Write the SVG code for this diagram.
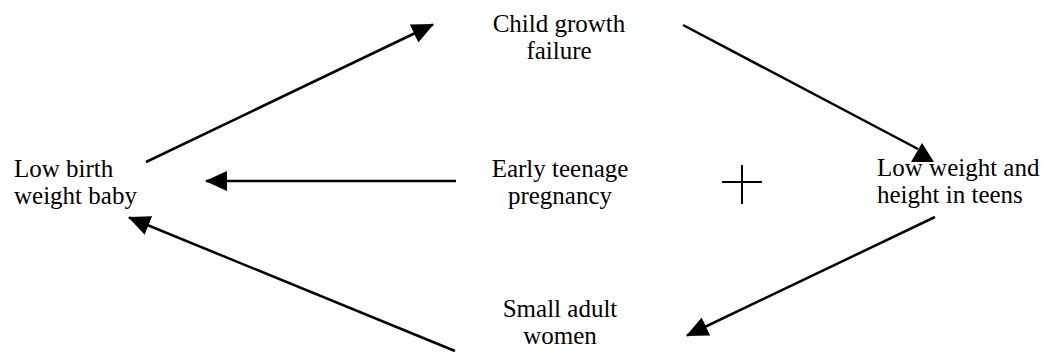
<svg xmlns="http://www.w3.org/2000/svg" width="1046" height="354" viewBox="0 0 1046 354">
<style>
text{font-family:'Liberation Serif','Times New Roman','DejaVu Serif',serif;font-size:25px;fill:#000}
.c{text-anchor:middle}
.ln{stroke:#000;stroke-width:2.5;fill:none}
</style>
<defs>
<marker id="ah" markerUnits="userSpaceOnUse" markerWidth="22" markerHeight="20" viewBox="0 0 22 20" refX="21" refY="10" orient="auto">
<path d="M0,0 L22,10 L0,20 z" fill="#000"/>
</marker>
</defs>
<rect width="1046" height="354" fill="#fff"/>
<g id="connectors">
<line class="ln" x1="146" y1="162" x2="433" y2="24.5" marker-end="url(#ah)"/>
<line class="ln" x1="683" y1="25" x2="918" y2="149"/>
<polygon points="922,143 911,162 934,162" fill="#000"/>
<line class="ln" x1="456" y1="181" x2="206" y2="181" marker-end="url(#ah)"/>
<line class="ln" x1="455" y1="351" x2="129" y2="217.5" marker-end="url(#ah)"/>
<line class="ln" x1="935" y1="217" x2="687" y2="335.5" marker-end="url(#ah)"/>
</g>
<g id="cross">
<line x1="722" y1="182" x2="762" y2="182" stroke="#000" stroke-width="2"/>
<line x1="742" y1="165" x2="742" y2="204" stroke="#000" stroke-width="2"/>
</g>
<g id="low-birth-weight-baby">
<text x="14" y="177" font-family="Liberation Serif, serif">Low birth</text>
<text x="14" y="204" font-family="Liberation Serif, serif">weight baby</text>
</g>
<g id="child-growth-failure">
<text class="c" x="559" y="32">Child growth</text>
<text class="c" x="559" y="59">failure</text>
</g>
<g id="early-teenage-pregnancy">
<text class="c" x="560" y="177">Early teenage</text>
<text class="c" x="560" y="204">pregnancy</text>
</g>
<g id="low-weight-height-teens">
<text x="877" y="176">Low weight and</text>
<text x="877" y="203">height in teens</text>
</g>
<g id="small-adult-women">
<text class="c" x="560" y="317">Small adult</text>
<text class="c" x="560" y="344">women</text>
</g>
</svg>
